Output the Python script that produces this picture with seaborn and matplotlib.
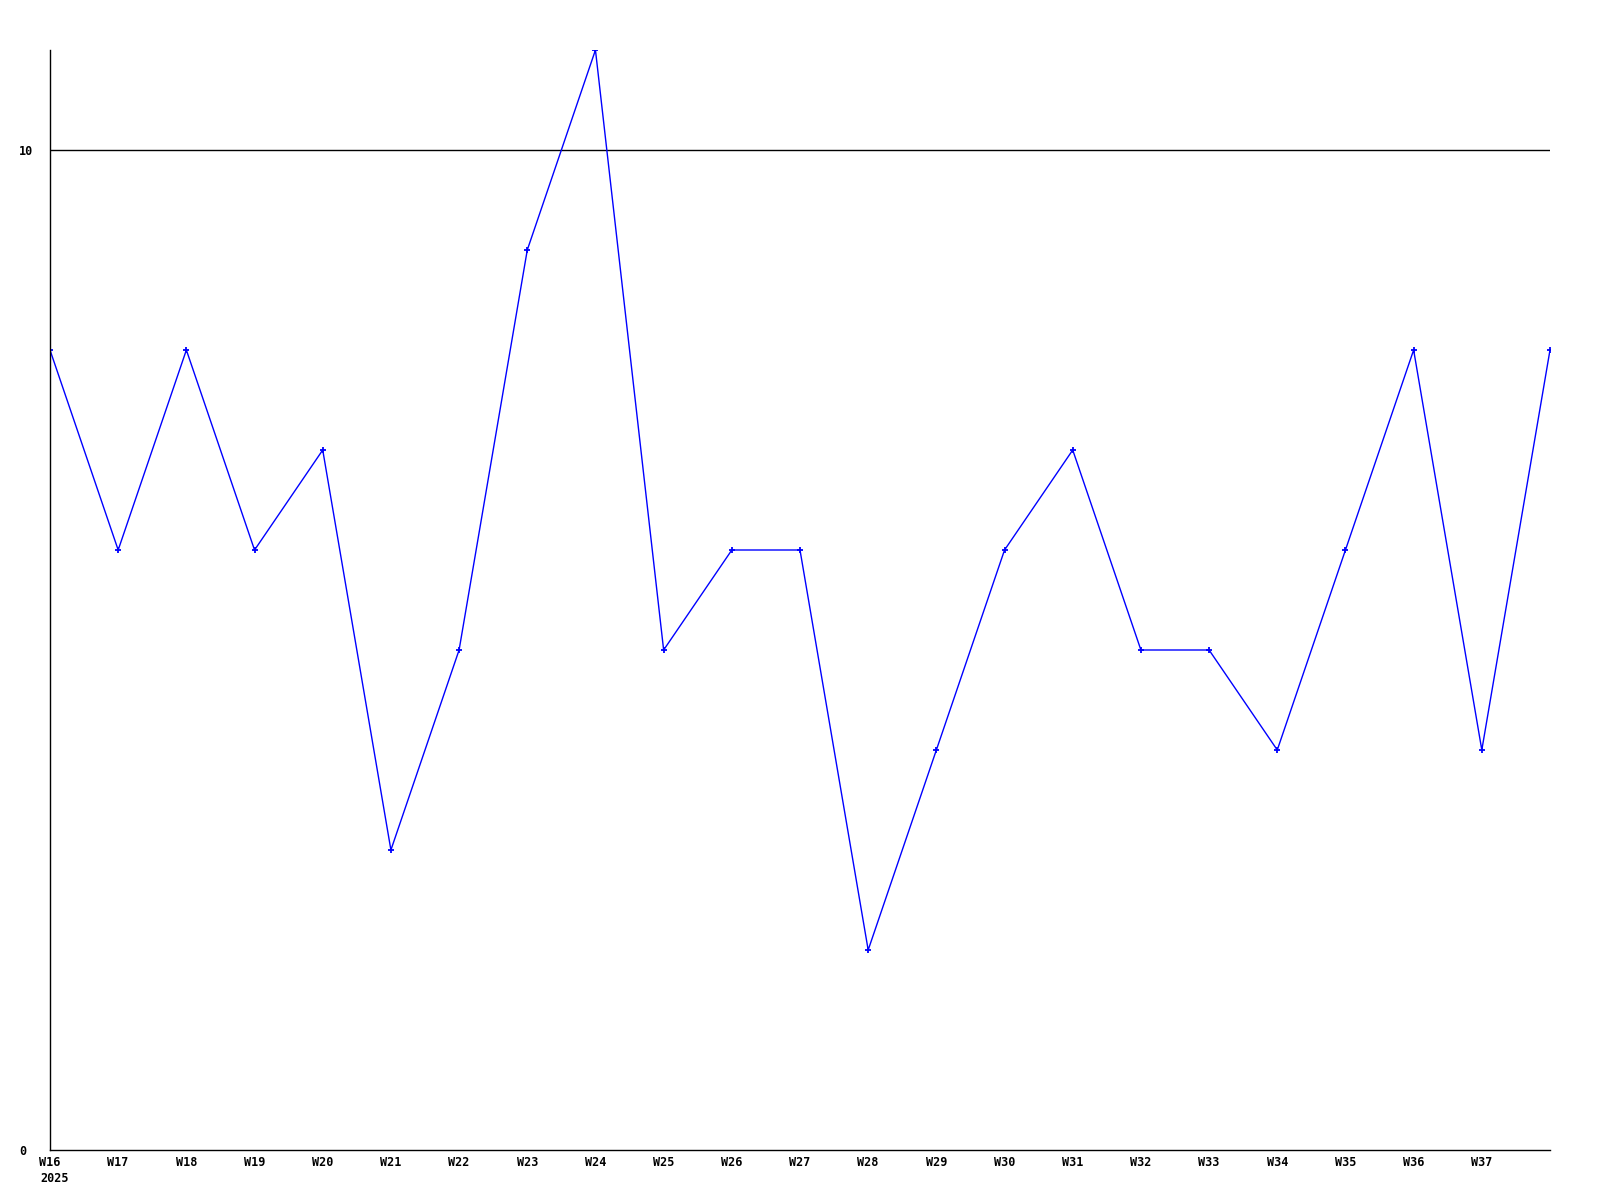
import pandas as pd
import seaborn as sns
import matplotlib.pyplot as plt
from matplotlib import transforms

# Weekly values
weeks = ["W16", "W17", "W18", "W19", "W20", "W21", "W22", "W23", "W24", "W25", "W26",
         "W27", "W28", "W29", "W30", "W31", "W32", "W33", "W34", "W35", "W36", "W37", "W38"]
values = [8, 6, 8, 6, 7, 3, 5, 9, 11, 5, 6, 6, 2, 4, 6, 7, 5, 5, 4, 6, 8, 4, 8]
tick_weeks = weeks[:-1]
year_label = "2025"
y_ticks = [0, 10]

df = pd.DataFrame({"pos": range(len(weeks)), "week": weeks, "value": values})

sns.set_style("white")
plt.rcParams['font.family'] = ['DejaVu Sans Mono']
plt.rcParams['font.weight'] = 'bold'
plt.rcParams['text.color'] = 'black'
plt.rcParams['xtick.color'] = 'black'
plt.rcParams['ytick.color'] = 'black'

fig = plt.figure(figsize=(16, 12), dpi=100)
ax = fig.add_axes([50 / 1600, 50 / 1200, 1500 / 1600, 1100 / 1200])

sns.lineplot(data=df, x="pos", y="value", ax=ax, color="#0000ff", linewidth=1,
             marker="+", markersize=4, markeredgewidth=1.3, markeredgecolor="#0000ff")

ax.axhline(10, color="black", linewidth=1, zorder=1)

ax.set_xlim(0, len(weeks) - 1)
ax.set_ylim(0, 11)
ax.set_xticks(range(len(tick_weeks)))
ax.set_xticklabels(tick_weeks, fontsize=8.5, fontweight="bold", color="black")
ax.set_yticks(y_ticks)
ax.set_yticklabels([str(t) for t in y_ticks], fontsize=8.5, fontweight="bold", ha="left", color="black")
ax.tick_params(axis="y", length=0, pad=22.5)
ax.tick_params(axis="x", length=0, pad=4)
ax.set_xlabel("")
ax.set_ylabel("")

for s in ["top", "right"]:
    ax.spines[s].set_visible(False)
for s in ["left", "bottom"]:
    ax.spines[s].set_color("black")
    ax.spines[s].set_linewidth(1)

# year under the first week label
trans = transforms.blended_transform_factory(ax.transData, ax.transAxes)
ax.text(0, 0, year_label, transform=trans + transforms.ScaledTranslation(-10 / 100, -22 / 100, fig.dpi_scale_trans),
        ha="left", va="top", fontsize=8.5, fontweight="bold", color="black")

fig.savefig("out.png", dpi=100)
